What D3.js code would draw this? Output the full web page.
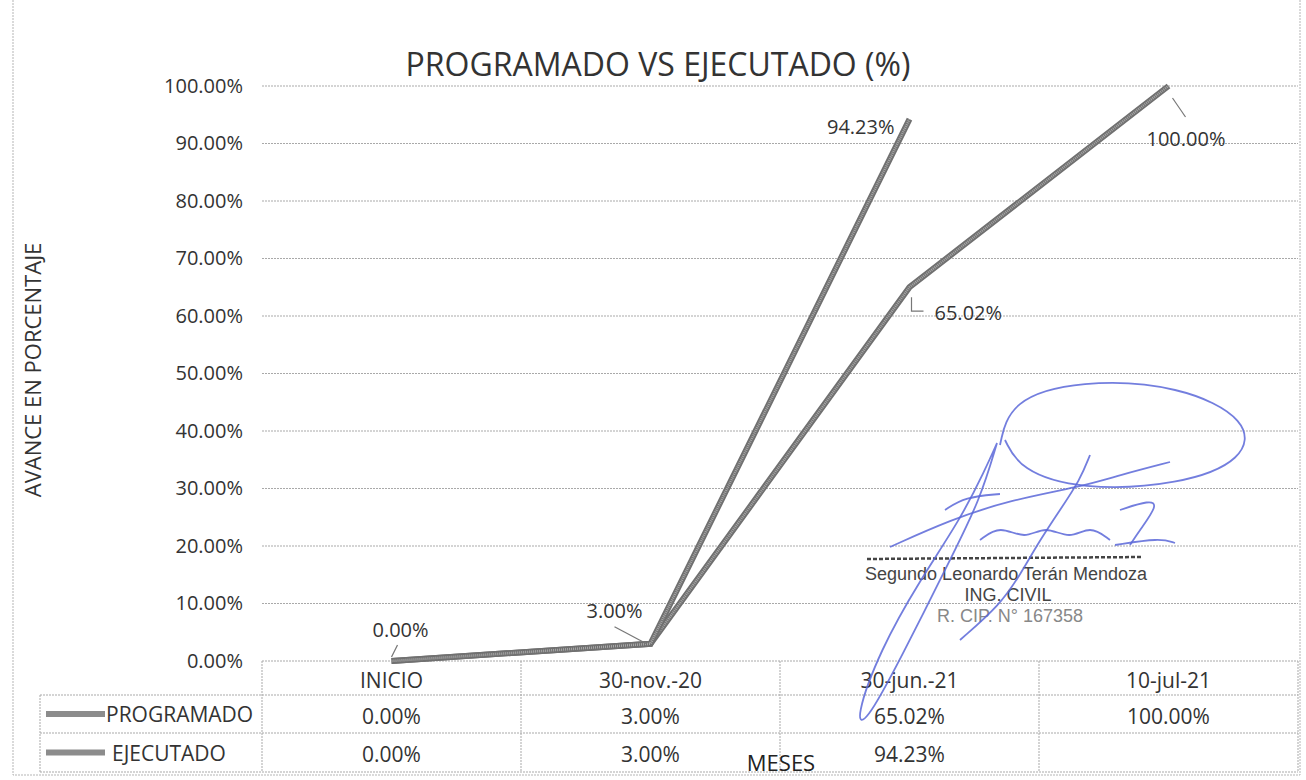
<!DOCTYPE html>
<html>
<head>
<meta charset="utf-8">
<script src="https://cdn.jsdelivr.net/npm/d3@7"></script>
<style>
  body { margin: 0; background: #fff; }
  svg { font-family: 'Open Sans', sans-serif; }
</style>
</head>
<body>
<svg width="1306" height="780"></svg>
<script>
// chart data
var categories = ['INICIO', '30-nov.-20', '30-jun.-21', '10-jul-21'];
var programado = [0, 3.00, 65.02, 100.00];
var ejecutado = [0, 3.00, 94.23, null];
var yTicks = [0, 10, 20, 30, 40, 50, 60, 70, 80, 90, 100];
var seriesNames = ['PROGRAMADO', 'EJECUTADO'];

// stamp under the signature
var stampLines = ['Segundo Leonardo Terán Mendoza', 'ING. CIVIL', 'R. CIP. N° 167358'];

var svg = d3.select('svg');
var fmt = function(v) { return v.toFixed(2) + '%'; };

var plot = {l: 262, r: 1298, t: 86, b: 661};
var rowH = [661, 695, 733, 772];
var gray = '#8c8c8c';
var fs = 20;

var xScale = d3.scaleBand()
    .domain(categories)
    .range([plot.l, plot.r]);
var yScale = d3.scaleLinear()
    .domain([0, 100])
    .range([plot.b, plot.t]);
var cx = function(c) { return xScale(c) + xScale.bandwidth() / 2; };

// outer frame
svg.append('path')
    .attr('d', 'M13,0V775H1300V0')
    .attr('fill', 'none')
    .attr('stroke', '#b5b5b5')
    .attr('stroke-dasharray', '2,1');

// title
svg.append('text')
    .attr('x', 658).attr('y', 76)
    .attr('text-anchor', 'middle')
    .attr('font-size', 32)
    .attr('fill', '#333')
    .text('PROGRAMADO VS EJECUTADO (%)');

// gridlines
svg.append('g').selectAll('line')
    .data(yTicks)
    .enter().append('line')
    .attr('x1', plot.l).attr('x2', plot.r)
    .attr('y1', function(d) { return yScale(d); })
    .attr('y2', function(d) { return yScale(d); })
    .attr('stroke', '#a9a9a9')
    .attr('stroke-dasharray', '2,1');

// y axis labels
var yAxisG = svg.append('g')
    .attr('transform', 'translate(' + [plot.l - 16, 0] + ')')
    .call(d3.axisLeft(yScale).tickValues(yTicks).tickSize(0).tickFormat(fmt));
yAxisG.select('.domain').remove();
yAxisG.selectAll('text')
    .attr('font-family', 'Open Sans, sans-serif')
    .attr('font-size', fs)
    .attr('fill', '#333');

svg.append('text')
    .attr('transform', 'translate(41,370) rotate(-90)')
    .attr('text-anchor', 'middle')
    .attr('font-size', 22)
    .attr('fill', '#333')
    .text('AVANCE EN PORCENTAJE');

// data table
var table = svg.append('g').attr('stroke', '#a9a9a9').attr('stroke-dasharray', '2,1');
rowH.slice(1).forEach(function(y) {
    table.append('line').attr('x1', 40).attr('x2', plot.r).attr('y1', y).attr('y2', y);
});
categories.concat(['end']).forEach(function(c, i) {
    var x = i < categories.length ? xScale(c) : plot.r;
    table.append('line').attr('x1', x).attr('x2', x).attr('y1', rowH[0]).attr('y2', rowH[3]);
});
table.append('line').attr('x1', 40).attr('x2', 40).attr('y1', rowH[1]).attr('y2', rowH[3]);

var cellText = svg.append('g')
    .attr('font-size', 21)
    .attr('fill', '#333')
    .attr('text-anchor', 'middle');
categories.forEach(function(c, i) {
    cellText.append('text').attr('x', cx(c)).attr('y', rowH[0] + 27).text(c);
    cellText.append('text').attr('x', cx(c)).attr('y', rowH[1] + 29).text(fmt(programado[i]));
    if (ejecutado[i] !== null) {
        cellText.append('text').attr('x', cx(c)).attr('y', rowH[2] + 29).text(fmt(ejecutado[i]));
    }
});

// legend keys in the table
seriesNames.forEach(function(name, i) {
    var y = (rowH[i + 1] + rowH[i + 2]) / 2;
    svg.append('line')
        .attr('x1', 46).attr('x2', 105)
        .attr('y1', y).attr('y2', y)
        .attr('stroke', gray).attr('stroke-width', 6);
    svg.append('text')
        .attr('x', i === 0 ? 106 : 112).attr('y', y + 8)
        .attr('font-size', 21)
        .attr('fill', '#333')
        .text(name);
});

// x axis title (sits over the table, as in the original)
svg.append('text')
    .attr('x', 781).attr('y', 771)
    .attr('text-anchor', 'middle')
    .attr('font-size', 22)
    .attr('fill', '#222')
    .text('MESES');

// lines
var line = d3.line()
    .defined(function(d) { return d.v !== null; })
    .x(function(d) { return cx(d.c); })
    .y(function(d) { return yScale(d.v); });

[programado, ejecutado].forEach(function(values) {
    var pts = categories.map(function(c, i) { return {c: c, v: values[i]}; });
    svg.append('path')
        .datum(pts)
        .attr('d', line)
        .attr('fill', 'none')
        .attr('stroke', '#707070')
        .attr('stroke-width', 6)
        .attr('stroke-linejoin', 'miter');
    svg.append('path')
        .datum(pts)
        .attr('d', line)
        .attr('fill', 'none')
        .attr('stroke', '#a8a8a8')
        .attr('stroke-width', 2.5)
        .attr('stroke-dasharray', '1,1');
});

// data labels with leader lines
var labels = [
    {c: categories[0], v: programado[0], dx: 9, dy: -24, anchor: 'middle', lead: [[0, -4], [6, -16]]},
    {c: categories[1], v: programado[1], dx: -36, dy: -26, anchor: 'middle', lead: [[-4, 0], [-36, -17]]},
    {c: categories[2], v: ejecutado[2], dx: -15, dy: 15, anchor: 'end', lead: null},
    {c: categories[2], v: programado[2], dx: 25, dy: 33, anchor: 'start', lead: [[2, 10], [2, 24], [14, 24]]},
    {c: categories[3], v: programado[3], dx: -22, dy: 60, anchor: 'start', lead: [[4, 12], [17, 31]]}
];
labels.forEach(function(l) {
    var px = cx(l.c), py = yScale(l.v);
    svg.append('text')
        .attr('x', px + l.dx).attr('y', py + l.dy)
        .attr('text-anchor', l.anchor)
        .attr('font-size', fs)
        .attr('fill', '#333')
        .text(fmt(l.v));
    if (l.lead) {
        svg.append('path')
            .attr('d', d3.line()(l.lead.map(function(p) { return [px + p[0], py + p[1]]; })))
            .attr('fill', 'none')
            .attr('stroke', '#777')
            .attr('stroke-width', 1.2);
    }
});

// stamp and signature
var stamp = svg.append('g').attr('fill', '#444').attr('font-family', 'Liberation Sans, Arial, sans-serif');
stamp.append('line')
    .attr('x1', 867).attr('x2', 1143).attr('y1', 559).attr('y2', 557)
    .attr('stroke', '#444').attr('stroke-width', 2.5).attr('stroke-dasharray', '4,2');
stamp.append('text').attr('x', 1006).attr('y', 580).attr('text-anchor', 'middle').attr('font-size', 18).text(stampLines[0]);
stamp.append('text').attr('x', 1008).attr('y', 601).attr('text-anchor', 'middle').attr('font-size', 18).text(stampLines[1]);
stamp.append('text').attr('x', 1010).attr('y', 622).attr('text-anchor', 'middle').attr('font-size', 18).attr('fill', '#888').text(stampLines[2]);

var sigStrokes = [
    [[1000, 445], [1010, 400], [1080, 380], [1180, 385], [1250, 420], [1245, 460], [1180, 485], [1080, 490], [1020, 470], [1005, 440]],
    [[997, 443], [985, 470], [960, 520], [920, 580], [880, 650], [855, 720], [865, 725], [900, 660], [950, 560], [980, 500], [997, 443]],
    [[890, 547], [950, 520], [1010, 500], [1080, 487], [1120, 475], [1170, 462]],
    [[945, 510], [965, 497], [1000, 494]],
    [[1090, 455], [1080, 480], [1060, 510], [1040, 540], [1020, 575], [1000, 605], [960, 640]],
    [[980, 540], [1000, 525], [1025, 540], [1045, 525], [1070, 540], [1090, 525], [1110, 540]],
    [[1120, 510], [1150, 500], [1158, 505], [1140, 530], [1130, 545]],
    [[1115, 545], [1160, 538], [1175, 543]]
];
var sigLine = d3.line().curve(d3.curveBasis);
svg.append('g').selectAll('path')
    .data(sigStrokes)
    .enter().append('path')
    .attr('d', sigLine)
    .attr('fill', 'none')
    .attr('stroke', '#5b67d8')
    .attr('stroke-width', 1.8)
    .attr('opacity', 0.85);
</script>
</body>
</html>
